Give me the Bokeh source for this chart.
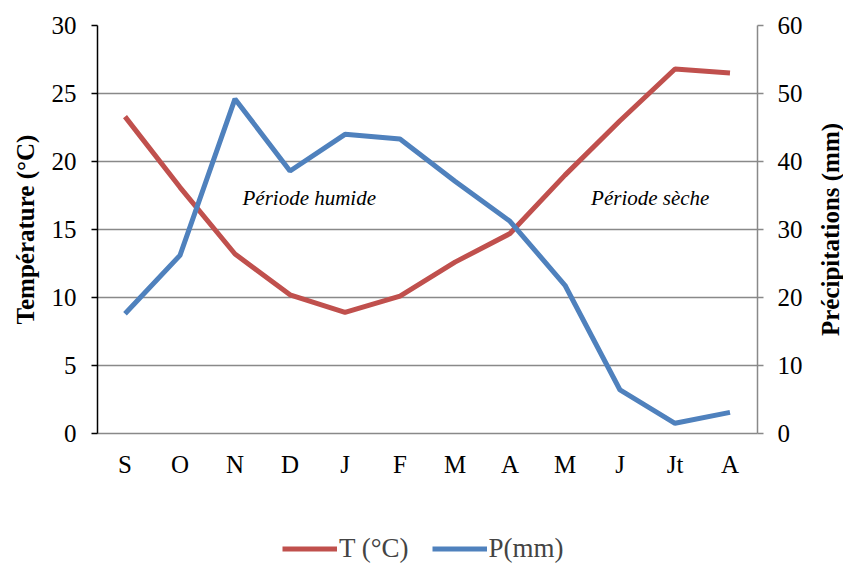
import math
from bokeh.plotting import figure
from bokeh.layouts import column, row
from bokeh.models import Range1d, LinearAxis, Legend, LegendItem, Label, FixedTicker
from bokeh.embed import file_html
from bokeh.resources import INLINE

months = ["S", "O", "N", "D", "J", "F", "M", "A", "M", "J", "Jt", "A"]
temperature = [23.3, 18.1, 13.2, 10.2, 8.9, 10.1, 12.6, 14.7, 19.0, 23.0, 26.8, 26.5]
precipitation = [17.6, 26.2, 49.2, 38.6, 44.0, 43.3, 37.1, 31.2, 21.8, 6.4, 1.5, 3.1]
t_ticks = [0, 5, 10, 15, 20, 25, 30]
p_ticks = [0, 10, 20, 30, 40, 50, 60]

x = list(range(len(months)))
FONT = "Liberation Serif"
RED = "#C0504D"
BLUE = "#4F81BD"
GRID = "#898989"
TICK_SIZE = "25px"
TITLE_SIZE = "25px"

p = figure(width=817, height=515, output_backend="svg", toolbar_location=None,
           x_range=Range1d(-0.5, len(months) - 0.5), y_range=Range1d(0, 30),
           min_border_left=97, min_border_right=60, min_border_top=25, min_border_bottom=82)
p.outline_line_color = None
p.extra_y_ranges = {"p": Range1d(0, 60)}

p.xgrid.visible = False
p.ygrid.ticker = FixedTicker(ticks=t_ticks)
p.ygrid.grid_line_color = GRID
p.ygrid.grid_line_width = 1.5

xa = p.xaxis[0]
xa.ticker = FixedTicker(ticks=x)
xa.major_label_overrides = {i: m for i, m in enumerate(months)}
xa.axis_line_color = GRID
xa.axis_line_width = 1.5
xa.major_tick_line_color = None
xa.minor_tick_line_color = None
xa.major_label_standoff = 11
xa.major_label_text_font = FONT
xa.major_label_text_font_size = TICK_SIZE
xa.major_label_text_color = "#000000"

ya = p.yaxis[0]
ya.ticker = FixedTicker(ticks=t_ticks)
ya.axis_line_color = "#000000"
ya.axis_line_width = 1.5
ya.major_tick_line_color = "#000000"
ya.major_tick_line_width = 1.5
ya.major_tick_out = 6
ya.major_tick_in = 0
ya.minor_tick_line_color = None
ya.major_label_standoff = 15
ya.major_label_text_font = FONT
ya.major_label_text_font_size = TICK_SIZE
ya.major_label_text_color = "#000000"
ya.axis_label = "Température (°C)"
ya.axis_label_text_font = FONT
ya.axis_label_text_font_style = "bold"
ya.axis_label_text_font_size = TITLE_SIZE
ya.axis_label_text_color = "#000000"
ya.axis_label_standoff = 10

ra = LinearAxis(y_range_name="p", ticker=FixedTicker(ticks=p_ticks))
ra.axis_line_color = GRID
ra.axis_line_width = 1.5
ra.major_tick_line_color = GRID
ra.major_tick_line_width = 1.5
ra.major_tick_out = 6
ra.major_tick_in = 0
ra.minor_tick_line_color = None
ra.major_label_standoff = 14
ra.major_label_text_font = FONT
ra.major_label_text_font_size = TICK_SIZE
ra.major_label_text_color = "#000000"
p.add_layout(ra, "right")

rt = p.line(x, temperature, line_color=RED, line_width=5)
rp = p.line(x, precipitation, line_color=BLUE, line_width=5, y_range_name="p")

for txt, lx in [("Période humide", 3.35), ("Période sèche", 9.55)]:
    p.add_layout(Label(x=lx, y=17.3, text=txt, text_font=FONT, text_font_style="italic",
                       text_font_size="21px", text_align="center", text_baseline="middle",
                       text_color="#000000"))

# right-hand axis title, reading bottom-to-top
tf = figure(width=26, height=515, output_backend="svg", toolbar_location=None,
            x_range=Range1d(0, 1), y_range=Range1d(0, 1),
            min_border_left=0, min_border_right=0, min_border_top=25, min_border_bottom=82)
tf.outline_line_color = None
tf.axis.visible = False
tf.grid.visible = False
tf.add_layout(Label(x=0.5, y=0.5, text="Précipitations (mm)", angle=math.pi / 2,
                    text_font=FONT, text_font_style="bold", text_font_size=TITLE_SIZE,
                    text_align="center", text_baseline="middle", text_color="#000000"))

# legend strip below the chart
lg = figure(width=843, height=50, output_backend="svg", toolbar_location=None,
            x_range=Range1d(0, 1), y_range=Range1d(0, 1),
            min_border_left=97, min_border_right=86,
            min_border_top=0, min_border_bottom=0)
lg.outline_line_color = None
lg.axis.visible = False
lg.grid.visible = False
lt = lg.line([float("nan")], [float("nan")], line_color=RED, line_width=5)
lp = lg.line([float("nan")], [float("nan")], line_color=BLUE, line_width=5)
legend = Legend(items=[LegendItem(label="T (°C)", renderers=[lt]),
                       LegendItem(label="P(mm)", renderers=[lp])],
                orientation="horizontal", location=(185, 1),
                label_text_font=FONT, label_text_font_size="27px",
                glyph_width=55, glyph_height=27, label_height=27, spacing=23,
                padding=0, margin=0,
                label_standoff=2, border_line_color=None, background_fill_alpha=0)
lg.add_layout(legend, "center")

layout = column(row(p, tf, spacing=0), lg, spacing=0)
open("out.html", "w").write(file_html(layout, INLINE))
